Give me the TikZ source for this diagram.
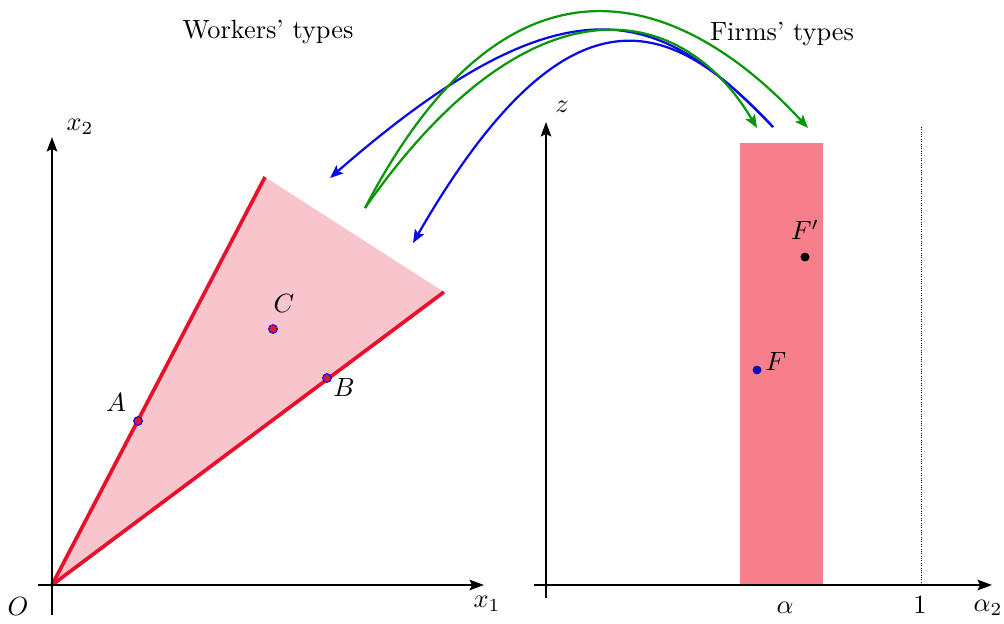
\documentclass[tikz,border=0pt]{standalone}
\usetikzlibrary{arrows.meta}
\definecolor{wedgefill}{HTML}{F9C5CC}
\definecolor{wedgeline}{HTML}{E8102A}
\definecolor{rectfill}{HTML}{F77F8C}
\definecolor{arrblue}{HTML}{0A0AE6}
\definecolor{darkblue}{HTML}{1010B0}
\definecolor{arrgreen}{HTML}{0A960A}
\begin{document}
\begin{tikzpicture}[x=0.38pt,y=-0.38pt,
  axis/.style={line width=0.8pt,-{Stealth[length=5.5pt,width=4pt,inset=1pt]}},
  edge/.style={wedgeline,line width=1.4pt},
  dot/.style={circle,fill=wedgeline,draw=arrblue,line width=0.4pt,inner sep=0pt,minimum size=3.3pt},
  lbl/.style={inner sep=1pt},
  barrow/.style={arrblue,line width=0.85pt,-{Stealth[length=5pt,width=4pt,inset=1pt]}},
  garrow/.style={arrgreen,line width=0.85pt,-{Stealth[length=5pt,width=4pt,inset=1pt]}}]
\useasboundingbox (0,0) rectangle (1004,623);
% left panel
\coordinate (O) at (52,585);
\coordinate (TL) at (265,177);
\coordinate (TR) at (444,292);
\fill[wedgefill] (O) -- (TL) -- (TR) -- cycle;
\draw[edge] (O) -- (TL);
\draw[edge] (O) -- (TR);
\coordinate (x1s) at (38,585);
\coordinate (x1e) at (484,585);
\coordinate (x2s) at (52,615);
\coordinate (x2e) at (52,137);
\draw[axis] (x1s) -- (x1e);
\draw[axis] (x2s) -- (x2e);
\node[lbl] (Olab) at (18,606) {$O$};
\node[lbl] (x1lab) at (487,604) {$x_1$};
\node[lbl] (x2lab) at (80,127) {$x_2$};
\node[dot] (A) at (138,421) {};
\node[dot] (B) at (327,378) {};
\node[dot] (C) at (273,329) {};
\node[lbl] (Alab) at (116,403) {$A$};
\node[lbl] (Blab) at (344,388) {$B$};
\node[lbl] (Clab) at (284,304) {$C$};
\node[lbl] (wt) at (268,32) {Workers' types};
% right panel
\fill[rectfill] (740,143) rectangle (823,585);
\coordinate (d1) at (921,127);
\coordinate (d2) at (921,585);
\draw[line width=0.35pt,dash pattern=on 0.35pt off 0.55pt] (d1) -- (d2);
\coordinate (a1s) at (534,585);
\coordinate (a1e) at (992,585);
\coordinate (zs) at (546,598);
\coordinate (ze) at (546,122);
\draw[axis] (a1s) -- (a1e);
\draw[axis] (zs) -- (ze);
\node[lbl] (zlab) at (562,107) {$z$};
\node[lbl] (alab) at (785,608) {$\alpha$};
\node[lbl] (onelab) at (920,605) {$1$};
\node[lbl] (a2lab) at (988,608) {$\alpha_2$};
\node[circle,fill=darkblue,inner sep=0pt,minimum size=3.4pt] (F) at (757,370) {};
\node[circle,fill=black,inner sep=0pt,minimum size=3.4pt] (Fp) at (805,257) {};
\node[lbl] (Flab) at (776,362) {$F$};
\node[lbl] (Fplab) at (805,230) {$F'$};
\node[lbl] (ft) at (782,34) {Firms' types};
% arrows
\coordinate (bs) at (773,127);
\coordinate (be1) at (330,178);
\coordinate (be2) at (413,243);
\coordinate (gs) at (365,208);
\coordinate (ge1) at (808,128);
\coordinate (ge2) at (757,128);
\draw[barrow] (bs) .. controls (665,15) and (575,-36) .. (be1);
\draw[barrow] (bs) .. controls (681,29) and (576,-40) .. (be2);
\draw[garrow] (gs) .. controls (515,-80) and (690,0) .. (ge1);
\draw[garrow] (gs) .. controls (528,-25) and (680,-2) .. (ge2);
\end{tikzpicture}
\end{document}
